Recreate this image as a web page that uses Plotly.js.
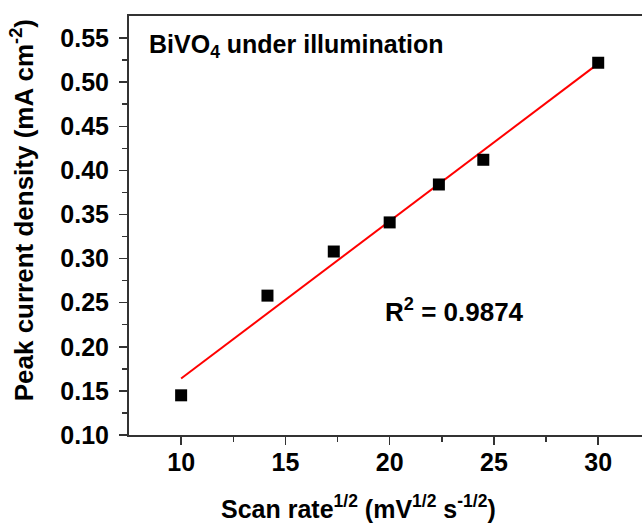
<!DOCTYPE html>
<html>
<head>
<meta charset="utf-8">
<script src="https://cdn.plot.ly/plotly-3.0.1.min.js"></script>
<style>html,body{margin:0;padding:0;background:#fff;}#chart{width:642px;height:525px;}</style>
</head>
<body>
<div id="chart"></div>
<script>
// Scan rate^1/2 (mV^1/2 s^-1/2)
const scanRateSqrt = [10, 14.14, 17.32, 20, 22.36, 24.49, 30];
// Peak current density (mA cm^-2)
const peakCurrent = [0.145, 0.258, 0.308, 0.341, 0.384, 0.412, 0.522];
// Linear fit line endpoints
const fitX = [10, 30];
const fitY = [0.164, 0.521];
const xTicks = [10, 15, 20, 25, 30];
const yTicks = [0.10, 0.15, 0.20, 0.25, 0.30, 0.35, 0.40, 0.45, 0.50, 0.55];
const xTitle = 'Scan rate<sup>1/2</sup> (mV<sup>1/2</sup> s<sup>-1/2</sup>)';
const yTitle = 'Peak current density (mA cm<sup>-2</sup>)';

const fam = 'Liberation Sans, Arial, sans-serif';
const f = (size) => ({family: fam, size: size, color: '#000', weight: 'bold'});

const traces = [
  {x: fitX, y: fitY, mode: 'lines', line: {color: '#ff0000', width: 2}, showlegend: false, hoverinfo: 'skip'},
  {x: scanRateSqrt, y: peakCurrent, mode: 'markers', marker: {symbol: 'square', size: 12, color: '#000'}, showlegend: false}
];

const axisCommon = {
  showline: true, linewidth: 2, linecolor: '#333', showgrid: false, zeroline: false,
  ticks: 'outside', ticklen: 8, tickwidth: 1.5, tickcolor: '#333',
  tickfont: f(25)
};

const layout = {
  width: 642, height: 525,
  margin: {l: 129, r: 0, t: 16, b: 90},
  paper_bgcolor: '#fff', plot_bgcolor: '#fff',
  font: {family: fam, color: '#000'},
  xaxis: Object.assign({}, axisCommon, {
    range: [7.5, 32.1], tickvals: xTicks, ticktext: xTicks.map(String), mirror: true,
    minor: {tickvals: [12.5, 17.5, 22.5, 27.5], ticks: 'outside', ticklen: 5, tickwidth: 1.5, tickcolor: '#333'},
    ticklabelstandoff: -4
  }),
  yaxis: Object.assign({}, axisCommon, {
    range: [0.10, 0.575], tickvals: yTicks, ticktext: yTicks.map(v => v.toFixed(2)),
    minor: {tickvals: [0.125, 0.175, 0.225, 0.275, 0.325, 0.375, 0.425, 0.475, 0.525], ticks: 'outside', ticklen: 5, tickwidth: 1.5, tickcolor: '#333'},
    ticklabelstandoff: 5
  }),
  annotations: [
    {xref: 'paper', yref: 'paper', x: 0.4464, y: -0.172, xanchor: 'center', yanchor: 'middle', showarrow: false,
     text: xTitle, font: f(25)},
    {xref: 'paper', yref: 'paper', x: -0.206, y: 0.537, xanchor: 'center', yanchor: 'middle', showarrow: false,
     textangle: -90, text: yTitle, font: f(26)},
    {xref: 'paper', yref: 'paper', x: 0.035, y: 0.928, xanchor: 'left', yanchor: 'middle', showarrow: false,
     text: 'BiVO<sub>4</sub> under illumination', font: f(25)},
    {xref: 'x', yref: 'y', x: 19.7, y: 0.241, xanchor: 'left', yanchor: 'middle', showarrow: false,
     text: 'R<sup>2</sup> = 0.9874', font: f(26)}
  ]
};

Plotly.newPlot('chart', traces, layout, {displayModeBar: false, staticPlot: true});
</script>
</body>
</html>
